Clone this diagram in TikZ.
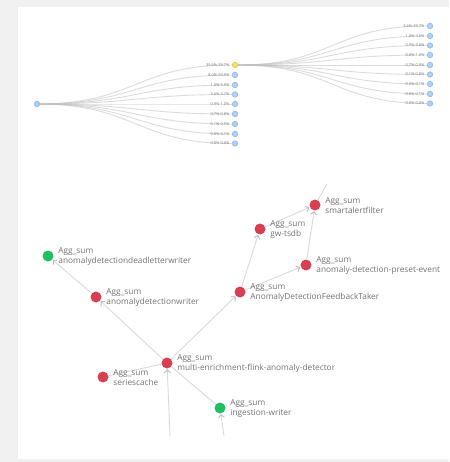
\documentclass[tikz,border=0pt]{standalone}
\usepackage{fontspec}
\setmainfont{Open Sans}
\usetikzlibrary{arrows.meta}
\definecolor{bgg}{RGB}{241,241,241}
\definecolor{nred}{RGB}{214,64,82}
\definecolor{ngreen}{RGB}{32,192,96}
\definecolor{txtg}{RGB}{115,115,115}
\definecolor{edg}{RGB}{218,218,218}
\definecolor{arrg}{RGB}{185,185,185}
\definecolor{tblue}{RGB}{178,208,245}
\definecolor{tbluedark}{RGB}{130,178,235}
\definecolor{tyellow}{RGB}{245,225,100}
\definecolor{tyellowdark}{RGB}{225,195,60}
\tikzset{
  rednode/.style={circle, fill=nred, minimum size=11pt, inner sep=0pt},
  greennode/.style={circle, fill=ngreen, minimum size=11pt, inner sep=0pt},
  lbl/.style={anchor=west, align=left, inner sep=0pt, text=txtg, font=\fontsize{8.3}{9.2}\selectfont},
  gedge/.style={draw=edg, line width=0.9pt},
  garrow/.style={gedge, -{Straight Barb[length=3pt,width=6pt,color=arrg]}, shorten >=0.5pt},
  tnode/.style={circle, fill=tblue, draw=tbluedark, line width=0.5pt, minimum size=5.5pt, inner sep=0pt},
  ynode/.style={circle, fill=tyellow, draw=tyellowdark, line width=0.5pt, minimum size=5.5pt, inner sep=0pt},
  tedge/.style={draw=black!25, line width=0.9pt, opacity=0.55},
  tlblL/.style={anchor=east, inner sep=0pt, text=txtg, font=\fontsize{3.9}{4.5}\selectfont},
}
\begin{document}
\begin{tikzpicture}[x=1pt,y=-1pt]
\useasboundingbox (0,0) rectangle (449,462);
\fill[bgg] (0,0) rectangle (449,462);
\fill[black!6] (17,6) rectangle (449,460);
\fill[white] (18,7) rectangle (449,459);

% ---------------- top tree ----------------
\node[tnode] (root) at (37,104) {};
\node[ynode] (m1) at (235,65) {};
\node[tnode] (m2) at (235,75) {};
\node[tnode] (m3) at (235,85) {};
\node[tnode] (m4) at (235,94.5) {};
\node[tnode] (m5) at (235,104) {};
\node[tnode] (m6) at (235,114) {};
\node[tnode] (m7) at (235,124) {};
\node[tnode] (m8) at (235,134) {};
\node[tnode] (m9) at (235,143.5) {};
\foreach \m in {m1,m2,m3,m4,m5,m6,m7,m8,m9}{
  \draw[tedge] (root.center) .. controls ([xshift=99pt]root.center) and ([xshift=-99pt]\m.center) .. (\m.west);
}
\node[tlblL] (lm1) at ([xshift=-2.5pt]m1.west) {39.6\%-39.7\%};
\node[tlblL] (lm2) at ([xshift=-2.5pt]m2.west) {8.0\%-20.0\%};
\node[tlblL] (lm3) at ([xshift=-2.5pt]m3.west) {1.0\%-5.0\%};
\node[tlblL] (lm4) at ([xshift=-2.5pt]m4.west) {3.6\%-3.7\%};
\node[tlblL] (lm5) at ([xshift=-2.5pt]m5.west) {0.9\%-1.0\%};
\node[tlblL] (lm6) at ([xshift=-2.5pt]m6.west) {0.7\%-0.8\%};
\node[tlblL] (lm7) at ([xshift=-2.5pt]m7.west) {0.1\%-0.5\%};
\node[tlblL] (lm8) at ([xshift=-2.5pt]m8.west) {0.0\%-0.1\%};
\node[tlblL] (lm9) at ([xshift=-2.5pt]m9.west) {0.0\%-0.0\%};

\node[tnode] (r1) at (430,26) {};
\node[tnode] (r2) at (430,36) {};
\node[tnode] (r3) at (430,45.5) {};
\node[tnode] (r4) at (430,55) {};
\node[tnode] (r5) at (430,65) {};
\node[tnode] (r6) at (430,74.5) {};
\node[tnode] (r7) at (430,84) {};
\node[tnode] (r8) at (430,94) {};
\node[tnode] (r9) at (430,103.5) {};
\foreach \r in {r1,r2,r3,r4,r5,r6,r7,r8,r9}{
  \draw[tedge] (m1.east) .. controls ([xshift=97pt]m1.center) and ([xshift=-97pt]\r.center) .. (\r.west);
}
\node[tlblL] (lr1) at ([xshift=-2.5pt]r1.west) {3.6\%-39.7\%};
\node[tlblL] (lr2) at ([xshift=-2.5pt]r2.west) {1.0\%-3.6\%};
\node[tlblL] (lr3) at ([xshift=-2.5pt]r3.west) {0.9\%-3.6\%};
\node[tlblL] (lr4) at ([xshift=-2.5pt]r4.west) {0.8\%-1.0\%};
\node[tlblL] (lr5) at ([xshift=-2.5pt]r5.west) {0.7\%-0.9\%};
\node[tlblL] (lr6) at ([xshift=-2.5pt]r6.west) {0.1\%-0.8\%};
\node[tlblL] (lr7) at ([xshift=-2.5pt]r7.west) {0.0\%-0.1\%};
\node[tlblL] (lr8) at ([xshift=-2.5pt]r8.west) {0.0\%-0.1\%};
\node[tlblL] (lr9) at ([xshift=-2.5pt]r9.west) {0.0\%-0.0\%};

% ---------------- bottom graph ----------------
\coordinate (b1) at (170,436);
\coordinate (b2) at (224,436);
\coordinate (t1) at (327,184);

\node[greennode] (dead) at (48,256) {};
\node[rednode] (writer) at (96,297) {};
\node[rednode] (multi) at (167,363) {};
\node[rednode] (series) at (103,377) {};
\node[greennode] (ingest) at (220,408) {};
\node[rednode] (feed) at (240,292) {};
\node[rednode] (preset) at (306,265) {};
\node[rednode] (tsdb) at (260,229) {};
\node[rednode] (smart) at (315,205) {};

\draw[garrow] (writer) -- (dead);
\draw[garrow] (multi) -- (writer);
\draw[gedge] (series) -- (multi);
\draw[garrow] (b1) -- (multi);
\draw[gedge] (multi) -- (ingest);
\draw[garrow] (b2) -- (ingest);
\draw[garrow] (multi) -- (feed);
\draw[garrow] (feed) -- (tsdb);
\draw[garrow] (feed) -- (preset);
\draw[garrow] (tsdb) -- (smart);
\draw[garrow] (preset) -- (smart);
\draw[gedge] (smart) -- (t1);

\node[lbl] (ldead) at ([xshift=4.5pt,yshift=-0.5pt]dead.east) {Agg\_sum\\anomalydetectiondeadletterwriter};
\node[lbl] (lwriter) at ([xshift=4.5pt,yshift=-0.5pt]writer.east) {Agg\_sum\\anomalydetectionwriter};
\node[lbl] (lmulti) at ([xshift=4.5pt,yshift=-0.5pt]multi.east) {Agg\_sum\\multi-enrichment-flink-anomaly-detector};
\node[lbl] (lseries) at ([xshift=4.5pt,yshift=-0.5pt]series.east) {Agg\_sum\\seriescache};
\node[lbl] (lingest) at ([xshift=4.5pt,yshift=-0.5pt]ingest.east) {Agg\_sum\\ingestion-writer};
\node[lbl] (lfeed) at ([xshift=4.5pt,yshift=-0.5pt]feed.east) {Agg\_sum\\AnomalyDetectionFeedbackTaker};
\node[lbl] (lpreset) at ([xshift=4.5pt,yshift=-0.5pt]preset.east) {Agg\_sum\\anomaly-detection-preset-event};
\node[lbl] (ltsdb) at ([xshift=4.5pt,yshift=-0.5pt]tsdb.east) {Agg\_sum\\gw-tsdb};
\node[lbl] (lsmart) at ([xshift=4.5pt,yshift=-0.5pt]smart.east) {Agg\_sum\\smartalertfilter};
\end{tikzpicture}
\end{document}
